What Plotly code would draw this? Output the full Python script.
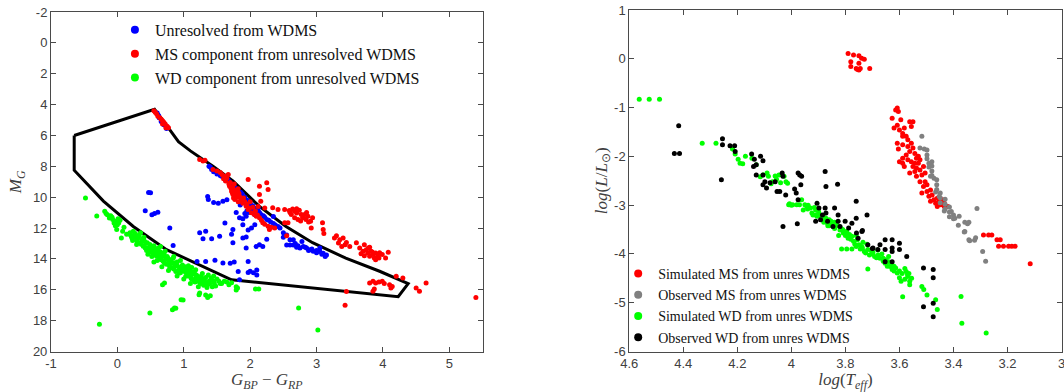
import plotly.graph_objects as go

# ---------------- Left panel: colour-magnitude diagram ----------------
unres_x = [0.60,0.63,0.66,0.70,0.74,0.62,
           1.38,1.42,1.45,1.50,1.55,1.60,1.63,1.68,1.72,1.76,1.80,1.84,1.88,1.92,1.96,2.00,2.04,2.08,2.12,2.16,2.22,2.28,2.35,2.42,2.50,1.95,1.98,2.03,
           1.36,1.37,1.45,1.52,1.59,1.65,1.79,1.84,1.89,1.94,1.92,1.85,2.00,2.07,2.12,2.35,2.02,2.07,1.89,1.97,
           1.24,1.33,1.29,1.42,1.54,1.62,1.74,1.72,1.74,1.89,1.94,1.94,2.09,2.14,2.19,2.25,
           2.50,2.55,2.60,2.65,2.65,2.75,2.80,2.85,2.90,2.78,3.05,3.10,3.13,3.05,2.70,2.88,2.95,3.00,
           0.47,0.50,0.42,0.52,0.56,0.61,0.79,0.84,
           1.20,1.33,1.47,1.59,1.70,1.76,1.82,1.97,1.97,2.05,2.10,2.10,2.00,1.84,
           1.40,1.47,1.53,1.57,1.66,1.70,1.78,1.86,1.90,1.98,2.06,2.14,2.20,2.25,2.31,2.38,2.45,2.55,2.60,2.68,2.72,2.83,2.93,3.00,3.08,3.15]
unres_y = [4.55,4.85,5.10,5.30,5.55,4.70,
           8.00,8.20,8.35,8.50,8.60,8.70,8.90,8.95,9.15,9.30,9.50,9.65,9.80,10.00,10.20,10.40,10.55,10.75,10.90,11.10,11.30,11.50,11.70,11.90,12.30,10.90,11.00,10.85,
           9.95,10.15,10.35,10.40,10.27,10.17,11.00,11.34,11.40,11.24,11.05,10.50,10.60,11.14,10.71,11.25,12.00,11.78,11.78,12.12,
           12.30,12.20,12.70,12.70,12.53,11.67,12.10,12.40,12.96,12.64,12.58,13.29,13.19,13.08,13.19,12.72,
           12.60,13.10,13.10,13.10,12.76,13.30,13.20,13.30,13.40,12.87,13.52,13.63,13.84,13.30,13.25,13.45,13.50,13.45,
           9.69,9.72,10.88,11.14,11.06,10.98,12.00,13.13,
           14.17,14.16,14.09,14.26,14.28,14.20,14.82,14.16,14.88,14.90,14.72,15.05,14.80,15.35,
           8.05,8.30,8.45,8.65,8.85,9.10,9.40,9.70,9.95,10.30,10.70,11.00,11.20,11.45,11.60,11.80,12.00,12.45,12.75,13.00,13.15,13.25,13.35,13.60,13.70,13.75]

ms_x = [0.55,0.57,0.59,0.61,0.64,0.66,0.68,0.70,0.72,0.75,0.77,0.68,0.73,
        1.24,1.29,1.32,
        1.44,1.50,1.55,1.58,1.62,1.67,1.60,1.65,1.69,1.74,1.77,1.79,1.82,1.74,1.84,1.87,1.77,1.72,1.70,1.76,1.80,1.75,1.82,1.94,1.97,2.02,2.09,2.14,2.19,2.27,2.29,2.37,2.12,2.08,2.00,1.90,
        1.63,1.68,1.71,1.73,1.78,1.80,1.83,1.86,1.89,1.92,1.95,1.99,2.04,2.06,2.11,2.17,2.22,2.32,
        1.97,2.14,2.14,2.25,2.27,2.16,2.22,
        2.34,2.42,2.52,2.59,2.64,2.67,2.70,2.74,2.77,2.79,2.84,2.87,2.91,2.92,2.94,2.62,2.67,2.57,2.52,3.09,3.10,3.11,2.72,2.82,2.70,2.85,2.60,2.76,2.88,2.55,2.80,
        3.30,3.35,3.40,3.33,3.43,3.45,3.50,3.38,3.27,
        3.60,3.65,3.72,3.75,3.77,3.82,3.85,3.89,3.92,3.94,3.87,3.80,3.99,4.04,4.08,3.70,3.67,3.72,3.89,3.84,3.78,3.95,3.80,
        3.80,3.85,3.89,3.94,3.99,4.02,4.10,4.12,4.14,3.85,3.87,4.20,4.30,4.50,4.55,4.65,3.45,3.43,5.40]
ms_y = [4.40,4.50,4.60,4.75,4.85,4.95,5.05,5.15,5.25,5.40,5.50,5.25,5.50,
        7.55,7.65,7.60,
        8.20,8.30,8.40,8.55,8.64,8.53,8.80,8.75,9.29,9.39,9.60,9.72,9.45,9.83,9.94,10.26,10.15,9.60,9.05,9.15,10.00,10.05,10.30,10.59,10.80,11.01,11.23,11.34,11.66,11.88,12.10,11.99,10.60,10.90,10.30,10.05,
        8.95,9.15,9.40,9.70,9.85,9.55,9.75,10.10,10.40,10.30,10.45,10.70,10.65,11.10,11.15,11.50,11.75,11.95,
        8.86,9.29,9.83,9.07,9.50,10.26,10.70,
        10.69,10.80,10.80,10.87,10.76,10.91,11.02,10.85,11.12,11.34,11.45,11.23,11.56,11.99,11.34,11.12,11.34,11.66,11.66,11.66,12.10,12.36,11.45,11.12,10.75,11.00,11.00,11.55,11.60,12.50,11.30,
        12.50,12.76,12.65,12.97,13.08,12.93,13.19,13.19,12.65,
        12.96,13.29,13.08,13.40,13.62,13.51,13.72,13.62,13.83,13.94,13.94,13.83,13.72,13.94,13.56,13.51,13.67,13.80,14.05,13.55,13.30,13.60,13.25,
        15.56,15.45,15.56,15.50,15.45,15.60,15.67,15.89,15.78,16.10,15.95,15.13,15.24,15.89,16.10,15.56,16.11,17.00,16.50]

wd_x = [-0.48,-0.31,-0.27,-0.19,-0.17,-0.15,-0.12,-0.10,-0.07,-0.05,-0.02,0.00,0.02,0.04,-0.01,0.06,
        0.19,0.21,0.24,0.26,0.28,0.29,0.31,0.33,0.34,0.29,0.37,0.39,0.41,0.43,0.44,0.46,0.49,0.50,0.51,0.53,0.55,0.56,0.58,0.59,0.61,0.62,0.63,0.65,0.66,0.68,0.70,0.71,0.73,0.75,0.76,0.78,0.80,0.81,0.83,0.84,0.86,0.87,0.88,0.90,0.91,0.93,0.94,0.96,0.98,1.00,1.01,1.02,1.03,1.05,1.06,1.08,1.10,1.11,1.13,1.15,1.16,1.18,1.20,1.21,1.23,1.25,1.26,1.28,1.30,1.31,1.33,1.36,1.38,1.41,1.43,1.46,1.50,1.53,1.57,1.61,1.65,1.68,1.72,1.79,1.79,1.81,2.13,2.08,
        1.23,1.24,1.33,1.36,1.40,0.96,0.99,0.86,0.88,0.83,0.49,0.68,0.71,2.73,3.02,
        0.46,0.52,0.60,0.40,0.35,0.22,0.14,0.10,0.65,0.72,0.85,0.95,1.07,1.18,1.12,1.28,1.37,1.45,1.22,1.10,1.00,0.90,0.77,0.67,0.55,
        0.20,0.23,0.27,0.30,0.32,0.36,0.38,0.42,0.45,0.48,0.52,0.54,0.57,0.60,0.64,0.67,0.69,0.72,0.74,0.77,0.79,0.82,0.85,0.89,0.92,0.95,0.97,1.04,1.07,1.09,1.12,1.14,1.17,1.19,1.24,1.27,1.32,1.35,1.39,1.44,1.48,1.55,-0.08,-0.03,0.01,0.08]
wd_y = [10.05,11.22,18.24,10.91,11.05,11.13,11.35,11.20,11.45,11.67,11.56,11.78,11.67,11.50,12.10,12.64,
        12.31,12.53,12.20,12.42,12.60,12.75,12.64,12.45,12.96,13.07,12.80,13.18,12.86,13.00,13.45,13.29,13.07,13.50,13.39,13.62,13.15,13.29,13.45,13.83,13.51,13.30,13.72,13.55,14.05,13.83,13.65,14.26,14.00,13.85,13.94,14.37,14.05,14.16,14.59,13.95,14.26,14.45,14.81,14.20,14.48,14.91,14.65,14.59,14.40,14.75,14.81,14.50,15.13,14.95,14.70,15.02,14.80,15.24,15.00,15.40,14.91,15.24,15.10,15.45,15.30,15.60,15.13,15.56,15.70,15.35,15.20,15.67,15.45,15.24,15.80,15.56,15.30,15.45,15.60,15.45,15.50,15.67,15.55,15.81,16.02,15.89,15.95,15.95,
        16.32,16.21,16.34,16.50,16.38,16.64,16.66,17.18,17.20,17.29,17.50,15.67,15.56,17.18,18.60,
        13.70,13.85,14.10,12.60,12.30,12.65,12.40,11.95,13.20,13.50,13.85,14.10,14.45,14.70,14.55,14.95,15.05,15.10,15.80,15.60,15.30,15.10,14.75,14.50,14.20,
        12.45,12.80,12.35,12.90,12.55,13.05,12.70,13.30,12.95,13.55,13.20,13.45,13.70,13.35,13.95,13.65,14.15,13.85,14.35,14.10,14.55,14.30,14.65,14.40,14.75,14.90,14.55,14.85,15.10,14.65,15.30,14.85,15.50,15.05,15.45,15.25,15.50,15.85,15.60,15.40,15.75,15.60,11.30,11.85,11.40,12.20]

region_x = [-0.65,0.56,0.70,0.80,0.92,1.10,1.44,1.74,2.14,2.54,2.94,3.44,3.95,4.38,4.23,1.72,1.24,0.74,0.24,-0.21,-0.65,-0.65]
region_y = [6.00,4.30,5.10,5.70,6.40,7.00,8.00,8.95,10.60,11.90,12.95,13.95,14.80,15.60,16.45,15.35,14.40,13.40,11.90,10.25,8.25,6.00]

# ---------------- Right panel: HR diagram ----------------
sms_x = [3.79,3.77,3.75,3.74,3.73,3.78,3.78,3.76,3.75,3.745,3.71,3.75,3.755,
         3.608,3.604,3.614,3.627,3.620,3.608,3.595,3.600,3.588,3.582,3.562,3.550,3.556,3.575,3.569,3.588,3.608,3.588,3.604,3.569,3.556,3.550,3.562,3.543,3.575,3.588,3.569,3.556,3.543,3.537,3.530,3.524,3.550,3.537,3.524,3.562,3.543,3.511,3.517,3.537,3.524,3.505,3.511,3.498,3.517,3.498,3.485,3.491,3.479,3.472,3.460,3.466,3.453,3.447,3.434,3.434,3.440,3.485,3.460,3.421,3.505,3.530,3.588,3.600,3.582,
         3.289,3.270,3.258,3.239,3.227,3.233,3.215,3.196,3.184,3.172,3.116]
sms_y = [0.11,0.08,0.06,0.01,-0.01,-0.06,-0.16,-0.20,-0.23,-0.20,-0.20,-0.09,-0.22,
         -1.01,-1.08,-1.05,-1.22,-1.42,-1.36,-1.25,-1.46,-1.53,-1.42,-1.29,-1.29,-1.39,-1.59,-1.66,-1.59,-1.73,-1.76,-1.85,-1.80,-1.73,-1.83,-1.90,-1.94,-1.97,-2.04,-2.07,-2.11,-2.14,-2.04,-2.14,-2.07,-2.21,-2.24,-2.28,-2.34,-2.31,-2.21,-2.38,-2.41,-2.52,-2.52,-2.62,-2.58,-2.75,-2.72,-2.69,-2.82,-2.79,-2.89,-2.86,-2.96,-2.92,-2.99,-2.96,-3.03,-2.89,-2.92,-3.03,-3.03,-2.34,-2.00,-2.14,-2.11,-2.21,
         -3.61,-3.61,-3.61,-3.71,-3.71,-3.84,-3.84,-3.84,-3.84,-3.84,-4.20]

oms_x = [3.517,3.524,3.508,3.498,3.498,3.498,3.491,3.491,3.480,3.480,3.480,3.480,3.485,3.472,3.462,3.462,3.462,3.466,3.449,3.449,3.449,3.453,3.431,3.431,3.431,3.434,3.415,3.415,3.415,3.408,3.400,3.400,3.395,3.382,3.379,3.358,3.343,3.348,3.358,3.360,3.343,3.340,3.322,3.318,3.313,3.292,3.281]
oms_y = [-1.59,-1.83,-1.85,-1.87,-1.97,-2.05,-2.14,-2.22,-2.11,-2.20,-2.30,-2.39,-2.41,-2.45,-2.48,-2.58,-2.68,-2.73,-2.75,-2.85,-2.95,-2.82,-2.88,-2.98,-3.08,-3.12,-3.04,-3.14,-3.24,-3.13,-3.20,-3.28,-3.27,-3.41,-3.23,-3.35,-3.35,-3.38,-3.54,-3.55,-3.71,-3.73,-3.72,-3.67,-3.07,-3.95,-4.15]

swd_x = [4.563,4.526,4.488,4.330,4.279,4.218,4.208,4.197,4.190,4.180,4.170,4.146,4.130,4.105,4.090,4.085,4.070,4.060,4.046,4.040,4.027,4.020,4.014,4.007,3.995,3.980,3.970,3.962,3.956,3.943,3.930,3.924,3.910,3.905,3.898,3.885,3.872,3.866,3.853,3.846,3.834,3.820,3.808,3.795,3.790,3.776,3.770,3.756,3.750,3.814,3.795,3.776,3.737,3.730,3.717,3.711,3.698,3.692,3.679,3.672,3.717,3.660,3.653,3.640,3.634,3.627,3.614,3.608,3.600,3.594,3.575,3.569,3.562,3.562,3.588,3.517,3.510,3.498,3.466,3.460,3.372,3.369,3.279,
         3.920,3.915,3.900,3.890,3.880,3.860,3.850,3.840,3.830,3.810,3.800,3.785,3.765,3.745,3.735,3.725,3.705,3.685,3.665,3.650,3.645,3.630,3.620,3.590,3.580,3.570,3.950,3.938,3.865,3.825,3.760,3.700,4.010,4.000,4.115,4.075,4.055,
         3.940,3.910,3.880,3.860,3.840,3.820,3.800,3.780,3.760,3.740,3.720,3.700,3.680,3.660,3.640,3.620,3.600,3.580,3.565,3.555]
swd_y = [-0.83,-0.83,-0.83,-1.73,-1.73,-1.85,-1.95,-2.06,-2.14,-2.15,-2.00,-2.04,-2.17,-2.38,-2.34,-2.41,-2.52,-2.40,-2.38,-2.54,-2.41,-2.52,-2.55,-2.97,-2.99,-2.99,-2.99,-2.89,-3.10,-3.03,-3.06,-3.16,-3.10,-3.23,-3.16,-3.30,-3.27,-3.37,-3.33,-3.44,-3.37,-3.51,-3.57,-3.54,-3.68,-3.64,-3.74,-3.71,-3.81,-3.90,-3.90,-3.90,-3.88,-3.95,-3.91,-4.02,-3.98,-4.05,-4.02,-4.09,-4.31,-4.09,-4.19,-4.16,-4.26,-4.32,-4.29,-4.39,-4.49,-4.56,-4.36,-4.46,-4.56,-4.63,-4.88,-4.67,-4.73,-4.84,-4.94,-5.14,-4.87,-5.42,-5.62,
         -3.20,-3.05,-3.12,-3.22,-3.35,-3.30,-3.38,-3.48,-3.42,-3.50,-3.62,-3.60,-3.80,-3.90,-3.76,-3.98,-3.93,-4.08,-4.00,-4.12,-4.25,-4.22,-4.35,-4.40,-4.30,-4.42,-2.99,-3.00,-3.42,-3.62,-3.85,-4.00,-2.99,-3.00,-2.42,-2.56,-2.47,
         -3.08,-3.20,-3.25,-3.42,-3.35,-3.45,-3.55,-3.70,-3.62,-3.85,-3.80,-3.95,-3.92,-4.15,-4.05,-4.25,-4.35,-4.52,-4.40,-4.50]

owd_x = [4.417,4.433,4.414,4.255,4.255,4.227,4.210,4.208,4.259,4.147,4.137,4.130,4.140,4.114,4.105,4.130,4.105,4.098,4.092,4.105,4.079,4.060,4.053,4.043,4.034,4.031,4.021,4.031,3.988,3.982,3.975,3.969,3.962,3.965,3.975,3.978,3.905,3.898,3.910,3.892,3.885,3.875,3.872,3.875,3.872,3.866,3.846,3.840,3.829,3.827,3.827,3.820,3.801,3.788,3.776,3.760,3.760,3.759,3.753,3.737,3.720,3.717,3.698,3.672,3.653,3.627,3.627,3.653,3.627,3.600,3.600,3.653,3.627,3.573,3.511,3.475,3.475,3.511,3.475,3.475,3.739,3.700,3.680]
owd_y = [-1.37,-1.94,-1.94,-1.64,-1.76,-1.78,-1.78,-1.90,-2.48,-1.95,-2.06,-2.17,-2.21,-2.00,-2.09,-2.38,-2.38,-2.52,-2.65,-2.58,-2.54,-2.52,-2.72,-2.72,-2.34,-2.41,-2.79,-3.44,-2.67,-2.75,-2.34,-2.38,-2.41,-2.58,-2.89,-3.38,-2.96,-3.06,-3.33,-3.30,-3.20,-2.31,-2.62,-3.06,-3.16,-3.33,-3.44,-3.06,-2.57,-3.20,-3.33,-3.44,-3.33,-3.47,-3.37,-2.92,-3.27,-3.57,-3.68,-3.52,-3.20,-3.81,-3.88,-3.81,-3.71,-3.71,-3.88,-3.91,-3.95,-3.78,-3.91,-4.16,-4.16,-4.05,-4.29,-4.32,-4.49,-5.08,-5.01,-5.29,-3.54,-3.89,-3.91]

# ---------------- Tick labels ----------------
left_xticks = [-1, 0, 1, 2, 3, 4, 5]
left_xtext = ["-1", "0", "1", "2", "3", "4", "5"]
left_yticks = [-2, 0, 2, 4, 6, 8, 10, 12, 14, 16, 18, 20]
left_ytext = ["-2", "0", "2", "4", "6", "8", "10", "12", "14", "16", "18", "20"]
right_xticks = [4.6, 4.4, 4.2, 4.0, 3.8, 3.6, 3.4, 3.2, 3.0]
right_xtext = ["4.6", "4.4", "4.2", "4", "3.8", "3.6", "3.4", "3.2", "3"]
right_yticks = [1, 0, -1, -2, -3, -4, -5, -6]
right_ytext = ["1", "0", "-1", "-2", "-3", "-4", "-5", "-6"]

left_names = ["Unresolved from WDMS", "MS component from unresolved WDMS", "WD component from unresolved WDMS"]
right_names = ["Simulated MS from unres WDMS", "Observed MS from unres WDMS", "Simulated WD from unres WDMS", "Observed WD from unres WDMS"]

BLUE, RED, GREEN, GRAY, BLACK = "#0000ff", "#ff0000", "#00ff00", "#808080", "#000000"
PT = 5

fig = go.Figure()

# left panel
fig.add_trace(go.Scatter(x=region_x, y=region_y, mode="lines", line=dict(color="black", width=3),
                         showlegend=False, hoverinfo="skip", xaxis="x", yaxis="y"))
for xs, ys, c in [(unres_x, unres_y, BLUE), (ms_x, ms_y, RED), (wd_x, wd_y, GREEN)]:
    fig.add_trace(go.Scatter(x=xs, y=ys, mode="markers", marker=dict(color=c, size=PT, line=dict(width=0)),
                             showlegend=False, xaxis="x", yaxis="y"))
for name, c in zip(left_names, [BLUE, RED, GREEN]):
    fig.add_trace(go.Scatter(x=[None], y=[None], mode="markers", marker=dict(color=c, size=8),
                             name=name, legend="legend", xaxis="x", yaxis="y"))

# right panel
for xs, ys, c in [(sms_x, sms_y, RED), (oms_x, oms_y, GRAY), (swd_x, swd_y, GREEN), (owd_x, owd_y, BLACK)]:
    fig.add_trace(go.Scatter(x=xs, y=ys, mode="markers", marker=dict(color=c, size=PT, line=dict(width=0)),
                             showlegend=False, xaxis="x2", yaxis="y2"))
for name, c in zip(right_names, [RED, GRAY, GREEN, BLACK]):
    fig.add_trace(go.Scatter(x=[None], y=[None], mode="markers", marker=dict(color=c, size=8),
                             name=name, legend="legend2", xaxis="x2", yaxis="y2"))

AX = "#4a4a4a"
TICKFONT = dict(family="Liberation Sans, Arial, sans-serif", size=13, color="#404040")
TITLEFONT = dict(family="Liberation Serif, Times New Roman, serif", size=17, color="#404040")

def axis(**kw):
    d = dict(showline=True, linecolor=AX, linewidth=1, mirror="allticks", ticks="inside", ticklen=5,
             tickcolor=AX, tickwidth=1, showgrid=False, zeroline=False, tickfont=TICKFONT, tickmode="array",
             automargin=False, ticklabeloverflow="allow")
    d.update(kw)
    return d

fig.update_layout(
    width=1064, height=392, margin=dict(l=0, r=0, t=0, b=0, autoexpand=False),
    paper_bgcolor="white", plot_bgcolor="white",
    xaxis=axis(domain=[0.0479, 0.4535], range=[-1, 5.5], tickvals=left_xticks, ticktext=left_xtext,
               title=dict(text="<i>G</i><sub><i>BP</i></sub> − <i>G</i><sub><i>RP</i></sub>", font=TITLEFONT, standoff=2),
               anchor="y"),
    yaxis=axis(domain=[0.1033, 0.9694], range=[20, -2], tickvals=left_yticks, ticktext=left_ytext,
               title=dict(text="<i>M</i><sub><i>G</i></sub>", font=TITLEFONT, standoff=6), anchor="x"),
    xaxis2=axis(domain=[0.5914, 0.9977], range=[4.6, 3.0], tickvals=right_xticks, ticktext=right_xtext,
                title=dict(text="<i>log</i>(<i>T</i><sub><i>eff</i></sub>)", font=TITLEFONT, standoff=2),
                anchor="y2"),
    yaxis2=axis(domain=[0.1033, 0.9745], range=[-6, 1], tickvals=right_yticks, ticktext=right_ytext,
                title=dict(text="<i>log</i>(<i>L</i>/<i>L</i><sub>⊙</sub>)", font=TITLEFONT, standoff=2),
                anchor="x2"),
    legend=dict(x=0.108, y=0.967, xanchor="left", yanchor="top", bgcolor="rgba(0,0,0,0)",
                font=dict(family="Liberation Serif, Times New Roman, serif", size=16, color="#111111"),
                itemsizing="trace"),
    legend2=dict(x=0.581, y=0.342, xanchor="left", yanchor="top", bgcolor="rgba(0,0,0,0)",
                 font=dict(family="Liberation Serif, Times New Roman, serif", size=14, color="#111111"),
                 itemsizing="trace"),
    showlegend=True,
)

fig.write_html("out.html")
